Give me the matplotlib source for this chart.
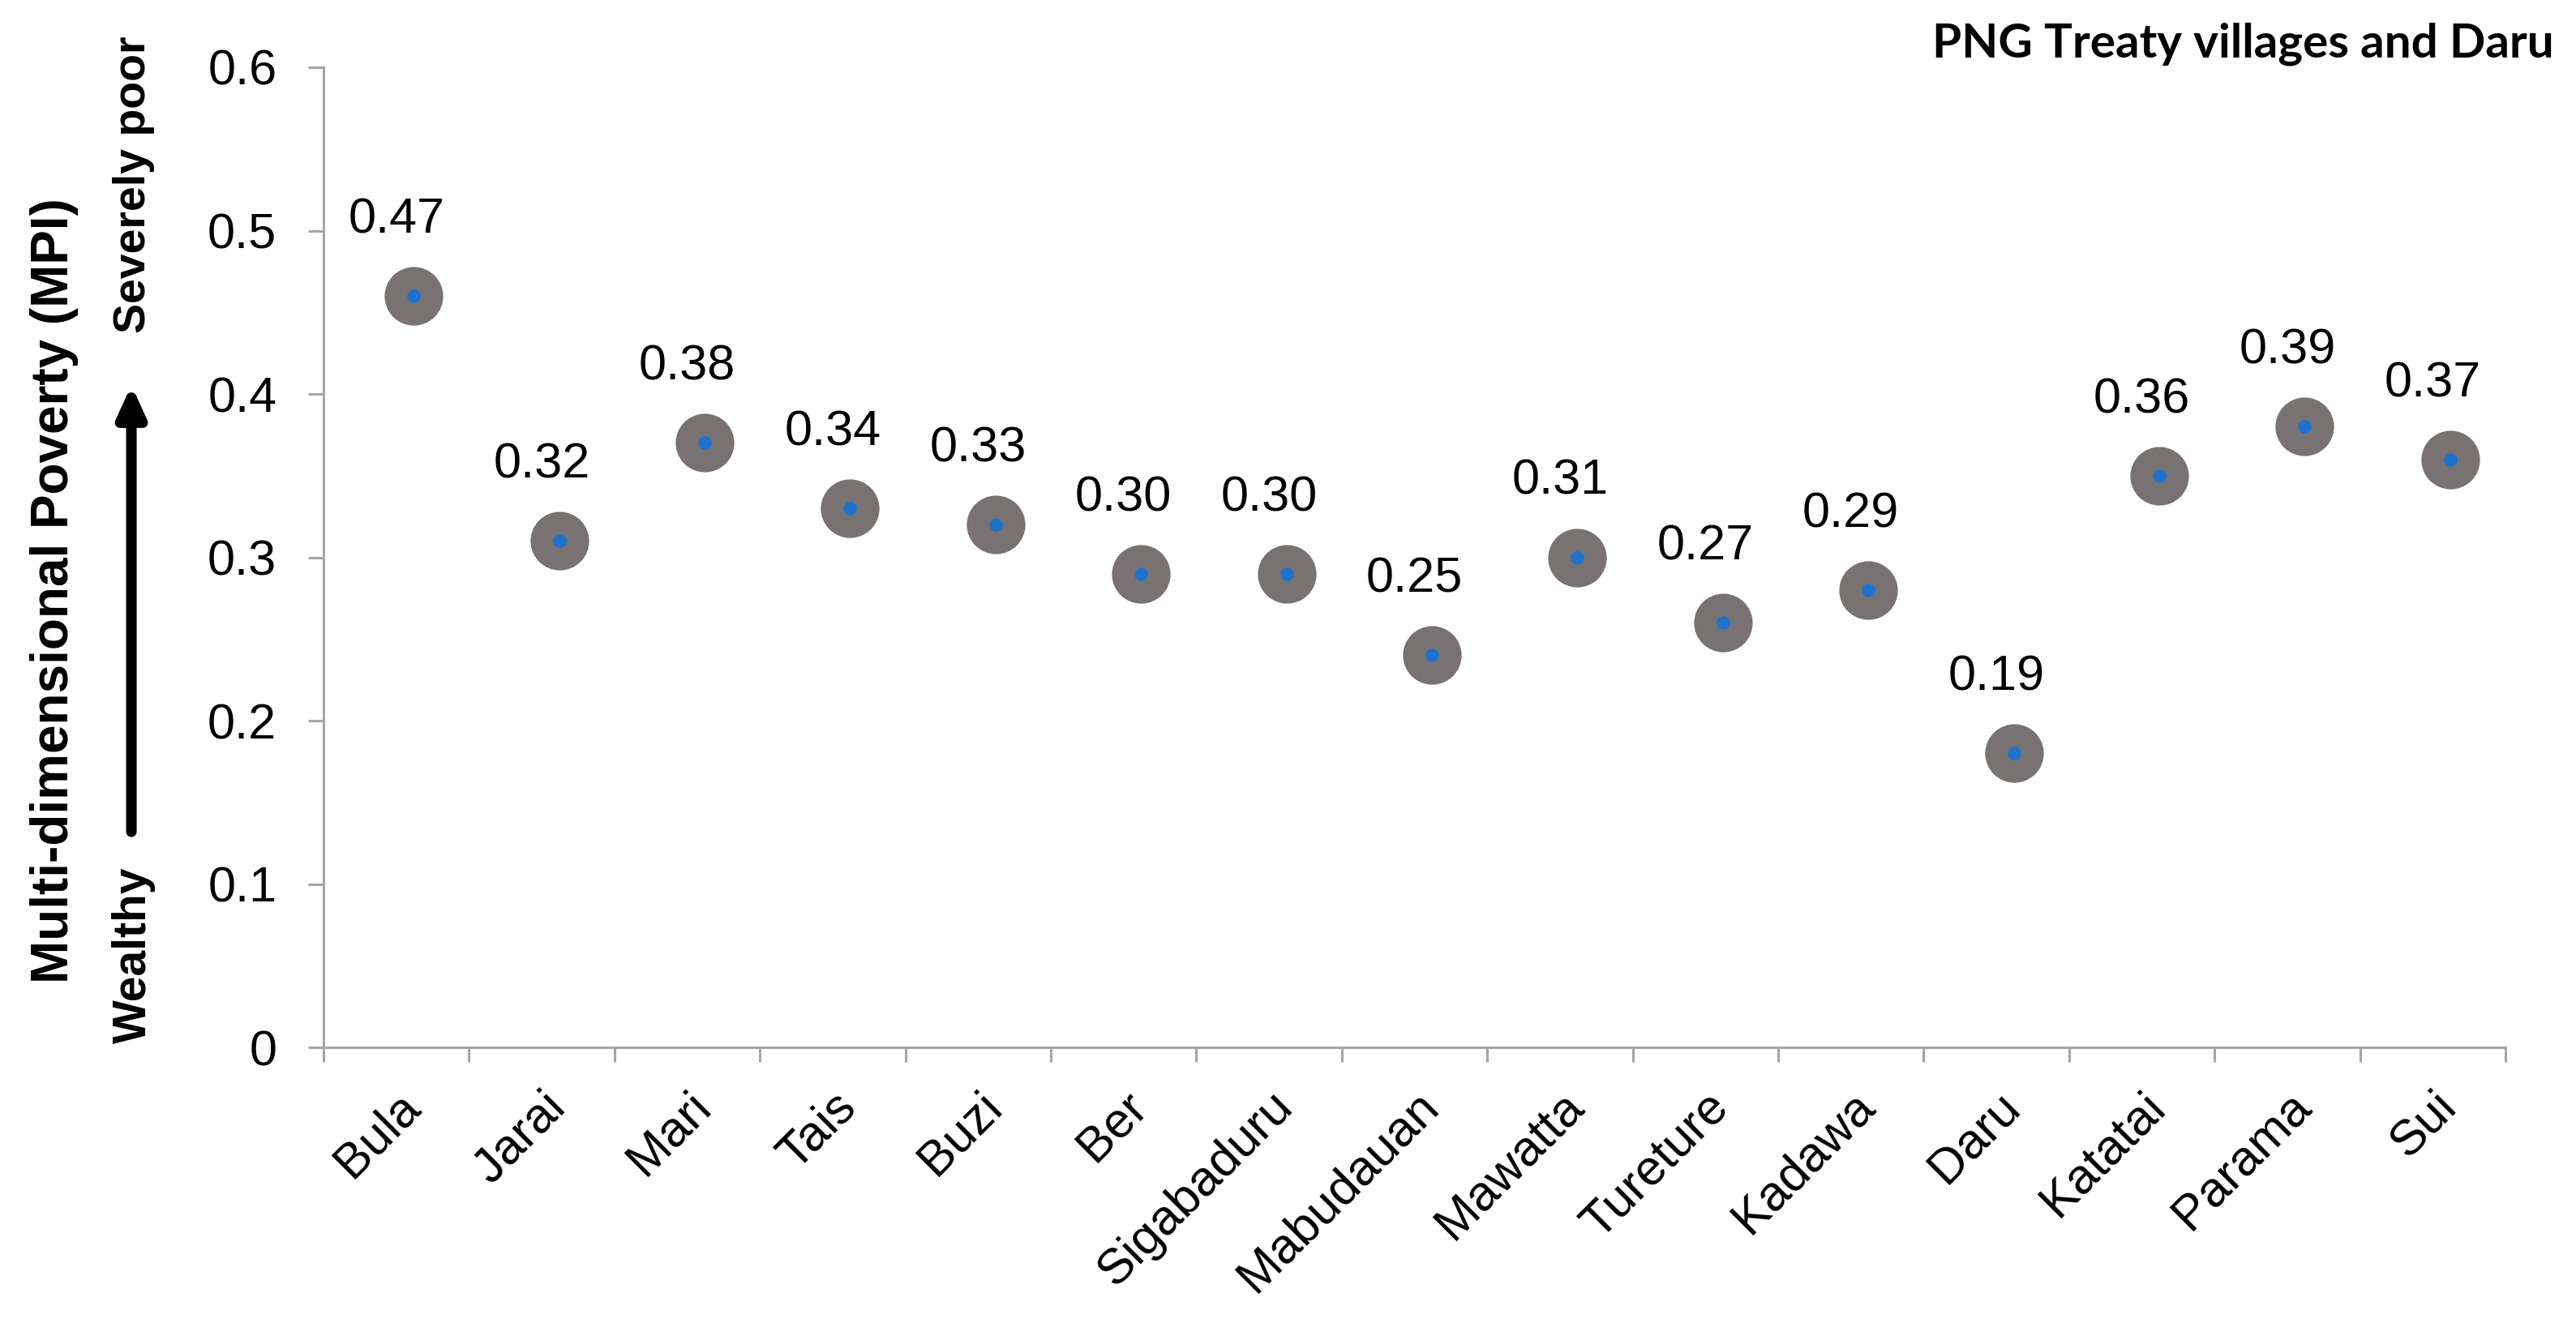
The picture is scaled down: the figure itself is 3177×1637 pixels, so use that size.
import matplotlib.pyplot as plt
from matplotlib.ticker import FixedLocator, NullFormatter

villages = ["Bula", "Jarai", "Mari", "Tais", "Buzi", "Ber", "Sigabaduru",
            "Mabudauan", "Mawatta", "Tureture", "Kadawa", "Daru", "Katatai",
            "Parama", "Sui"]
mpi = [0.46, 0.31, 0.37, 0.33, 0.32, 0.29, 0.29, 0.24, 0.30, 0.26, 0.28,
       0.18, 0.35, 0.38, 0.36]
mpi_labels = ["0.47", "0.32", "0.38", "0.34", "0.33", "0.30", "0.30", "0.25",
              "0.31", "0.27", "0.29", "0.19", "0.36", "0.39", "0.37"]
y_ticks = [0, 0.1, 0.2, 0.3, 0.4, 0.5, 0.6]
y_tick_labels = ["0", "0.1", "0.2", "0.3", "0.4", "0.5", "0.6"]

plt.rcParams['font.family'] = ['Liberation Sans', 'DejaVu Sans']
axis_grey = "#a6a6a6"

fig = plt.figure(figsize=(3177 / 200, 1637 / 200), dpi=200)
ax = fig.add_axes([0.1256, 0.2107, 0.847, 0.7386])

x = list(range(len(villages)))
# markers sit a little right of the category centre, as in the original
marker_x = [i + 0.12 for i in x]
ax.plot(marker_x, mpi, linestyle="none", marker="o", markersize=25,
        markerfacecolor="#787272", markeredgecolor="#787272")
ax.plot(marker_x, mpi, linestyle="none", marker="o", markersize=5,
        markerfacecolor="#1f72cc", markeredgecolor="#1f72cc")

for i in x:
    ax.annotate(mpi_labels[i], (i, mpi[i]), xytext=(0, 33.5),
                textcoords="offset points", ha="center", va="center",
                fontsize=22)

ax.set_xlim(-0.5, len(villages) - 0.5)
ax.set_ylim(0, 0.6)
ax.set_yticks(y_ticks)
ax.set_yticklabels(y_tick_labels, fontsize=22)
ax.set_xticks(x)
ax.set_xticklabels(villages, fontsize=22, rotation=45, ha="right",
                   rotation_mode="anchor")
ax.xaxis.set_minor_locator(FixedLocator([i - 0.5 for i in range(len(villages) + 1)]))
ax.xaxis.set_minor_formatter(NullFormatter())
ax.tick_params(axis="x", which="major", length=0, pad=16)
ax.tick_params(axis="x", which="minor", length=6.5, width=1.1, color=axis_grey)
ax.tick_params(axis="y", length=6.8, width=1.1, color=axis_grey, pad=14)

for side in ["top", "right"]:
    ax.spines[side].set_visible(False)
for side in ["left", "bottom"]:
    ax.spines[side].set_color(axis_grey)
    ax.spines[side].set_linewidth(1.1)

# y axis titles and arrow
fig.text(0.021, 0.555, "Multi-dimensional Poverty (MPI)", rotation=90,
         ha="center", va="center", fontsize=23, fontweight="bold")
fig.text(0.052, 0.861, "Severely poor", rotation=90, ha="center",
         va="center", fontsize=20, fontweight="bold")
fig.text(0.052, 0.280, "Wealthy", rotation=90, ha="center", va="center",
         fontsize=20.5, fontweight="bold")
ax.annotate("", xy=(0.051, 0.7098), xytext=(0.051, 0.3732),
            xycoords="figure fraction", textcoords="figure fraction",
            arrowprops=dict(arrowstyle="-|>,head_width=0.5,head_length=1.1",
                            mutation_scale=10, shrinkA=0, shrinkB=0,
                            color="black", lw=4.7))

fig.text(0.9915, 0.9572, "PNG Treaty villages and Daru", ha="right",
         va="baseline", fontsize=21, fontweight="bold",
         family=["Lato", "DejaVu Sans"])

fig.savefig("out.png", dpi=200)
